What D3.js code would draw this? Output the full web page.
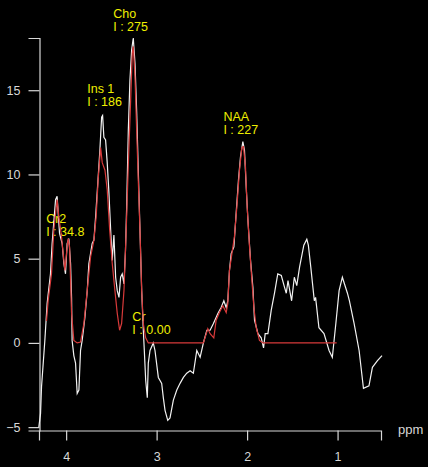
<!DOCTYPE html>
<html lang="en">
<head>
<meta charset="UTF-8">
<title>MRS spectrum</title>
<script src="https://cdn.jsdelivr.net/npm/d3@7"></script>
<style>
  html, body { margin: 0; padding: 0; background: #000; }
  svg { display: block; background: #000; }
  text { font-family: "Liberation Sans", Arial, sans-serif; }
</style>
</head>
<body>
<script>
// measured spectrum (ppm, amplitude)
var specPpm = [4.302, 4.283, 4.272, 4.236, 4.210, 4.173, 4.155, 4.117, 4.100, 4.073, 4.044, 4.025, 4.007, 3.989, 3.970, 3.951, 3.940, 3.934, 3.915, 3.896,
  3.878, 3.859, 3.841, 3.823, 3.793, 3.767, 3.749, 3.712, 3.693, 3.674, 3.646, 3.627, 3.608, 3.597, 3.583, 3.564, 3.546, 3.527, 3.508, 3.491,
  3.472, 3.453, 3.435, 3.416, 3.398, 3.380, 3.361, 3.344, 3.331, 3.313, 3.295, 3.276, 3.258, 3.239, 3.220, 3.203, 3.184, 3.165, 3.147, 3.136,
  3.121, 3.103, 3.092, 3.073, 3.037, 3.018, 2.981, 2.944, 2.926, 2.907, 2.877, 2.852, 2.815, 2.777, 2.741, 2.704, 2.667, 2.630, 2.594, 2.556,
  2.519, 2.483, 2.445, 2.409, 2.372, 2.323, 2.287, 2.257, 2.231, 2.213, 2.195, 2.176, 2.146, 2.121, 2.095, 2.073, 2.047, 2.029, 2.010, 1.991,
  1.962, 1.936, 1.918, 1.880, 1.844, 1.818, 1.800, 1.770, 1.733, 1.697, 1.661, 1.622, 1.586, 1.567, 1.548, 1.508, 1.478, 1.451, 1.420, 1.373,
  1.340, 1.323, 1.296, 1.257, 1.243, 1.206, 1.150, 1.094, 1.058, 1.019, 0.983, 0.947, 0.891, 0.869, 0.817, 0.762, 0.714, 0.653, 0.615, 0.559, 0.509];
var specVal = [-5.0, -4.2, -2.6, 0.1, 2.35, 4.1, 5.9, 8.5, 8.7, 6.5, 5.9, 4.7, 4.1, 5.9, 6.2, 4.7, 2.7, 0.15, -0.75, -1.2,
  -3.0, -2.8, -0.45, 0.15, 1.5, 3.1, 4.7, 5.9, 6.1, 7.5, 9.85, 11.45, 13.4, 13.5, 12.2, 12.05, 10.7, 8.9, 6.7, 4.9,
  6.4, 3.9, 3.1, 2.7, 3.9, 4.1, 3.5, 5.5, 8.1, 12.6, 15.6, 17.4, 18.1, 16.6, 13.65, 10.3, 6.7, 3.1, 0.75, -0.45,
  -2.2, -3.25, -1.2, -0.45, 0, -0.45, -2.05, -2.4, -3.25, -4.0, -4.6, -4.45, -3.4, -2.8, -2.4, -2.05, -1.8, -1.65, -1.8, -0.45,
  -0.85, 0, 0.75, 0.75, 1.15, 1.75, 2.1, 2.5, 2.1, 2.5, 4.3, 5.3, 5.7, 7.7, 9.7, 11.05, 11.95, 11.45, 9.25, 7.3,
  4.9, 3.3, 1.35, 0.55, 0.3, -0.3, 0.55, 0.55, 1.95, 2.95, 4.1, 4.0, 3.3, 2.95, 3.7, 2.5, 3.9, 3.4, 4.5, 5.8,
  6.15, 5.8, 4.5, 2.5, 2.7, 0.9, 0.55, -0.45, -0.85, 1.15, 3.1, 3.9, 2.95, 2.5, 1.15, -0.45, -2.7, -2.55, -1.45, -1.05, -0.75];

// fitted model (ppm, amplitude)
var fitPpm = [4.217, 4.199, 4.162, 4.136, 4.100, 4.081, 4.051, 4.025, 4.014, 3.989, 3.978, 3.962, 3.951, 3.940, 3.915, 3.878, 3.841, 3.804, 3.767, 3.730,
  3.693, 3.668, 3.646, 3.619, 3.601, 3.571, 3.546, 3.519, 3.491, 3.461, 3.435, 3.409, 3.387, 3.361, 3.336, 3.313, 3.287, 3.269, 3.258, 3.239,
  3.220, 3.203, 3.184, 3.165, 3.147, 3.121, 3.092, 2.483, 2.434, 2.409, 2.368, 2.342, 2.306, 2.268, 2.231, 2.213, 2.195, 2.168, 2.140, 2.110,
  2.084, 2.058, 2.040, 2.018, 1.999, 1.973, 1.947, 1.925, 1.899, 1.863, 1.825, 1.010];
var fitVal = [1.3, 2.5, 4.1, 6.7, 8.5, 7.5, 6.3, 4.9, 4.3, 5.7, 6.2, 5.7, 3.7, 1.75, 0.15, 0, 0.05, 1.15, 3.1, 5.1,
  6.1, 7.5, 9.7, 11.6, 10.7, 10.25, 9.1, 6.7, 4.75, 3.1, 1.75, 0.75, 1.15, 3.1, 6.7, 10.55, 14.4, 17.2, 17.6, 15.8,
  12.5, 9.7, 6.7, 3.1, 1.15, 0.3, 0, 0, 0.85, 0.55, 0.3, 1.35, 1.8, 2.2, 1.8, 2.35, 4.3, 5.3, 6.3, 8.3,
  10.25, 11.6, 11.65, 10.45, 8.05, 5.7, 3.7, 2.1, 0.9, 0.15, 0, 0];

// peak annotations
var peakNames = ["Cho", "Ins 1", "NAA", "Cr2", "Cr"];
var peakIntegrals = ["275", "186", "227", "34.8", "0.00"];
var labelPpm = [3.480, 3.767, 2.262, 4.221, 3.268];
var labelVal = [19.3, 14.83, 13.17, 7.12, 1.30];

var xTicks = [4, 3, 2, 1];
var yTicks = [-5, 0, 5, 10, 15];

var W = 428, H = 467;
var svg = d3.select("body").append("svg").attr("width", W).attr("height", H);

var x = d3.scaleLinear().domain([4.3, 0.52]).range([39, 381]);
var y = d3.scaleLinear().domain([-5.2, 18.1]).range([430.5, 38]);

var axisColor = "#d8d8d8";

// axes
var xAxis = svg.append("g").attr("transform", "translate(0,430.5)")
  .call(d3.axisBottom(x).tickValues(xTicks).tickFormat(d3.format("d")).tickSize(10).tickPadding(8));
var yAxis = svg.append("g").attr("transform", "translate(39.5,0)")
  .call(d3.axisLeft(y).tickValues(yTicks).tickFormat(d3.format("d")).tickSize(11).tickPadding(8));
[xAxis, yAxis].forEach(function (g) {
  g.select(".domain").attr("stroke", axisColor).attr("stroke-width", 1.2);
  g.selectAll(".tick line").attr("stroke", axisColor).attr("stroke-width", 1.2);
  g.selectAll(".tick text").attr("fill", axisColor).style("font-size", "12.5px")
    .style("font-family", "Liberation Sans, Arial, sans-serif");
});
xAxis.selectAll(".tick text").attr("dy", "1em");

svg.append("text").attr("x", 398).attr("y", 434).attr("fill", axisColor)
  .style("font-size", "13px").text("ppm");

// peak labels (drawn below the curves)
var labels = svg.append("g").selectAll("text")
  .data(peakNames).enter().append("text")
  .attr("x", function (d, i) { return x(labelPpm[i]); })
  .attr("y", function (d, i) { return y(labelVal[i]); })
  .attr("fill", "#eeee00")
  .style("font-size", "12.5px");
labels.append("tspan").text(function (d) { return d; });
labels.append("tspan")
  .attr("x", function (d, i) { return x(labelPpm[i]); })
  .attr("dy", 13)
  .text(function (d, i) { return "I : " + peakIntegrals[i]; });

var spec = specPpm.map(function (p, i) { return [p, specVal[i]]; });
var fit = fitPpm.map(function (p, i) { return [p, fitVal[i]]; });

var line = d3.line()
  .x(function (d) { return x(d[0]); })
  .y(function (d) { return y(d[1]); });

svg.append("path").datum(spec).attr("d", line)
  .attr("fill", "none").attr("stroke", "#f2f2f2").attr("stroke-width", 1.2);

svg.append("path").datum(fit).attr("d", line)
  .attr("fill", "none").attr("stroke", "#d83a3a").attr("stroke-width", 1.2);
</script>
</body>
</html>
